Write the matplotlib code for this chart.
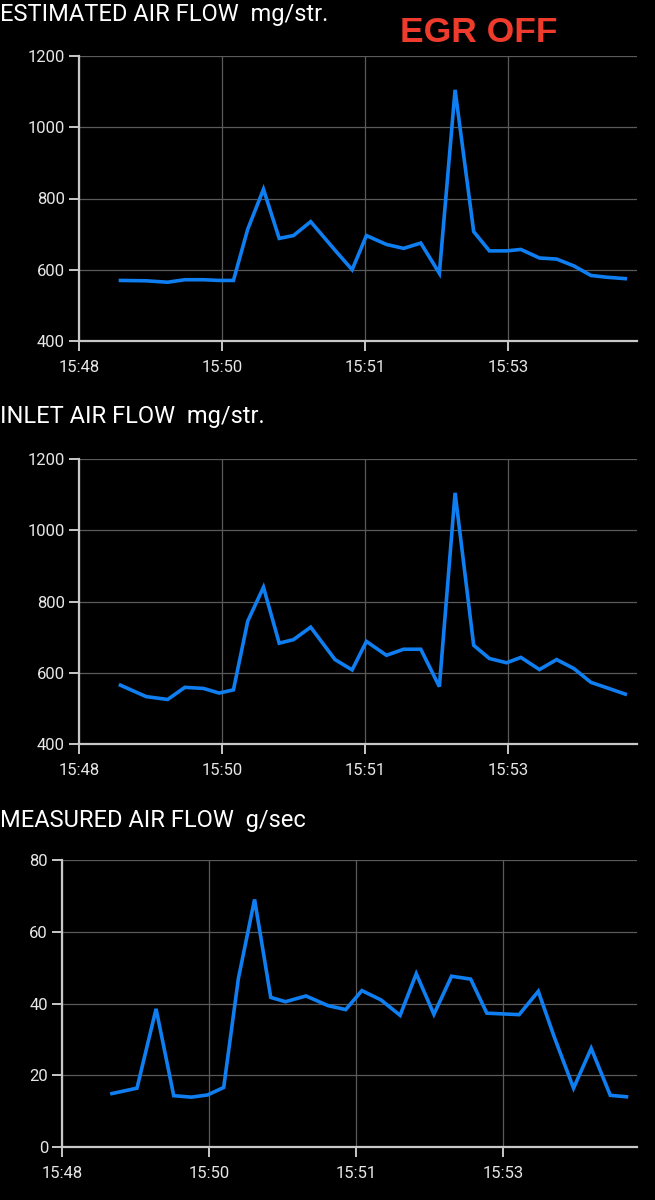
import matplotlib
matplotlib.use("Agg")
import matplotlib.pyplot as plt

plt.rcParams['font.family'] = ['Roboto', 'DejaVu Sans']

# time axis, in units of one major tick step
tick_labels = ["15:48", "15:50", "15:51", "15:53"]

# estimated air flow (mg/stroke)
est_t = [0.29, 0.47, 0.62, 0.74, 0.87, 0.98, 1.08, 1.18, 1.29, 1.40,
         1.50, 1.62, 1.79, 1.91, 2.01, 2.15, 2.27, 2.39, 2.52, 2.63,
         2.76, 2.87, 2.99, 3.09, 3.22, 3.34, 3.46, 3.58, 3.69, 3.82]
est_flow = [570, 569, 565, 572, 572, 570, 570, 714, 826, 688,
            696, 735, 655, 600, 696, 671, 660, 675, 590, 1105,
            707, 653, 653, 657, 633, 630, 611, 584, 579, 575]

# inlet air flow (mg/stroke)
inlet_t = est_t
inlet_flow = [565, 533, 525, 559, 556, 543, 552, 745, 840, 683,
              693, 728, 637, 608, 688, 649, 666, 666, 561, 1105,
              677, 640, 628, 643, 609, 637, 612, 573, 558, 540]

# measured air flow (g/sec)
maf_t = [0.34, 0.51, 0.64, 0.76, 0.88, 0.99, 1.10, 1.20, 1.31, 1.42,
         1.52, 1.66, 1.81, 1.93, 2.04, 2.17, 2.30, 2.41, 2.53, 2.65,
         2.78, 2.89, 3.00, 3.11, 3.24, 3.35, 3.48, 3.60, 3.73, 3.84]
maf_flow = [14.9, 16.4, 38.5, 14.3, 13.9, 14.5, 16.6, 47.0, 69.0, 41.7,
            40.5, 42.1, 39.4, 38.3, 43.6, 41.0, 36.7, 48.3, 37.0, 47.6,
            46.8, 37.3, 37.1, 36.9, 43.4, 30.5, 16.4, 27.5, 14.4, 14.0]

LINE = '#0f7ef0'
SPINE = '#c8c8c8'
GRID = '#5a5a5a'
TEXT = '#e6e6e6'

W, H = 655, 1200
fig = plt.figure(figsize=(W / 100, H / 100), dpi=100, facecolor='black')


def panel(left, top, bottom, xmax, t, vals, ylim, yticks, title, title_y):
    right = 637
    ax = fig.add_axes([left / W, 1 - bottom / H, (right - left) / W, (bottom - top) / H])
    ax.set_facecolor('black')
    ax.plot(t, vals, color=LINE, lw=2.6, solid_joinstyle='miter', zorder=3)
    ax.set_xlim(0, xmax)
    ax.set_ylim(*ylim)
    ax.set_xticks(range(len(tick_labels)))
    ax.set_xticklabels(tick_labels)
    ax.set_yticks(yticks)
    ax.grid(True, color=GRID, lw=0.9)
    for s in ['top', 'right']:
        ax.spines[s].set_visible(False)
    for s in ['left', 'bottom']:
        ax.spines[s].set_color(SPINE)
        ax.spines[s].set_linewidth(1.6)
    ax.tick_params(colors=SPINE, labelcolor=TEXT, labelsize=12, length=7, width=1.4)
    ax.tick_params(axis='x', pad=7)
    ax.tick_params(axis='y', pad=3)
    fig.text(0, 1 - title_y / H, title, color='white', fontsize=17,
             ha='left', va='center')
    return ax


panel(79, 56, 341, (637 - 79) / 143, est_t, est_flow, (400, 1200),
      [400, 600, 800, 1000, 1200], "ESTIMATED AIR FLOW  mg/str.", 15)
panel(79, 459, 744, (637 - 79) / 143, inlet_t, inlet_flow, (400, 1200),
      [400, 600, 800, 1000, 1200], "INLET AIR FLOW  mg/str.", 417)
panel(62, 860, 1147, (637 - 62) / 147, maf_t, maf_flow, (0, 80),
      [0, 20, 40, 60, 80], "MEASURED AIR FLOW  g/sec", 820)

fig.text(400 / W, 1 - 33 / H, "EGR OFF", color='#ee3b2c', fontsize=25.5,
         fontweight='bold', family=['Liberation Sans', 'DejaVu Sans'],
         ha='left', va='center')

fig.savefig("out.png", dpi=100, facecolor='black')
